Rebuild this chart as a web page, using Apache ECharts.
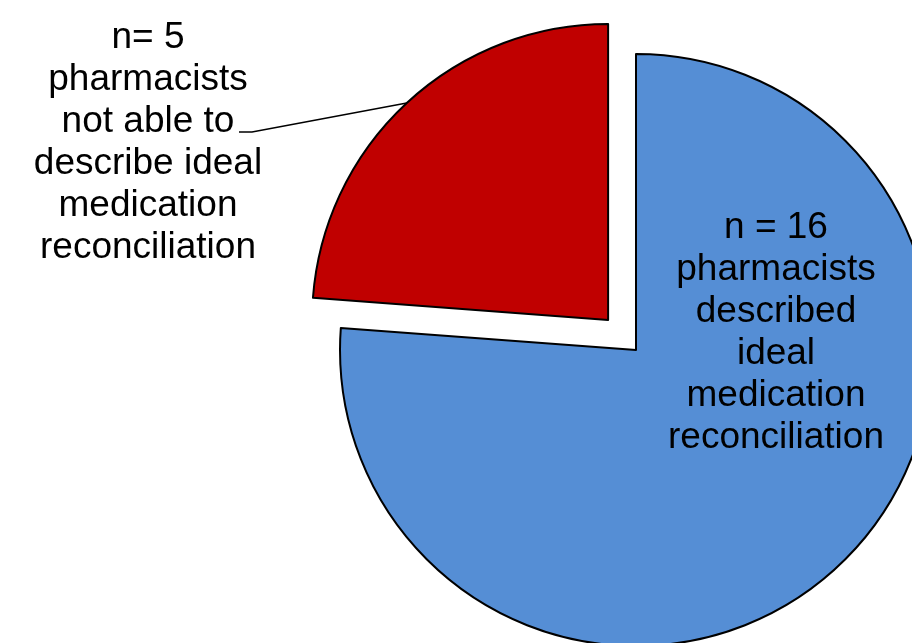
<!DOCTYPE html>
<html>
<head>
<meta charset="utf-8">
<script src="https://cdn.jsdelivr.net/npm/echarts@6/dist/echarts.min.js"></script>
<style>
  html, body { margin: 0; padding: 0; background: #ffffff; }
  #chart { width: 912px; height: 643px; }
</style>
</head>
<body>
<div id="chart"></div>
<script>
// Pharmacists' ability to describe ideal medication reconciliation
const categories = [
  'Described ideal medication reconciliation',
  'Not able to describe ideal medication reconciliation'
];
const counts = [16, 5];
const sliceColors = ['#558ED5', '#C00000'];
const labelTemplates = [
  'n = {c}\npharmacists\ndescribed\nideal\nmedication\nreconciliation',
  'n= {c}\npharmacists\nnot able to\ndescribe ideal\nmedication\nreconciliation'
];

// Pie geometry
const pieCenter = [636, 350];
const pieRadius = 296;
const explodeDistance = 41;

// Midline angle of the second (pulled-out) slice; pie starts at 12 o'clock and runs clockwise
const total = counts.reduce((a, b) => a + b, 0);
const midDeg = 90 - 360 * (counts[0] + counts[1] / 2) / total;
const midRad = midDeg * Math.PI / 180;
const explodedCenter = [
  pieCenter[0] + explodeDistance * Math.cos(midRad),
  pieCenter[1] - explodeDistance * Math.sin(midRad)
];

const textStyle = {
  fontFamily: '"Liberation Sans", Arial, sans-serif',
  fontSize: 37,
  lineHeight: 42,
  color: '#000000',
  overflow: 'none'
};
const hidden = { color: 'rgba(0,0,0,0)', borderWidth: 0 };
const edge = { borderColor: '#000000', borderWidth: 2 };

function pieData(visibleIndex) {
  return categories.map((name, i) => {
    if (i !== visibleIndex) {
      return { name, value: counts[i], itemStyle: hidden, label: { show: false }, labelLine: { show: false } };
    }
    return {
      name,
      value: counts[i],
      itemStyle: Object.assign({ color: sliceColors[i] }, edge),
      label: Object.assign({ show: true, formatter: labelTemplates[i], position: i === 0 ? 'inside' : 'outside' }, textStyle),
      labelLine: {
        show: i === 1,
        length: 10,
        length2: 13,
        lineStyle: { color: '#000000', width: 1.4 }
      }
    };
  });
}

const commonSeries = {
  type: 'pie',
  radius: pieRadius,
  startAngle: 90,
  clockwise: true,
  avoidLabelOverlap: false,
  silent: true,
  animation: false,
  emphasis: { disabled: true }
};

const chart = echarts.init(document.getElementById('chart'), null, { renderer: 'canvas' });
chart.setOption({
  backgroundColor: '#ffffff',
  series: [
    Object.assign({}, commonSeries, {
      name: 'described',
      center: pieCenter,
      data: pieData(0),
      labelLayout: (p) => p.dataIndex === 0
        ? { x: pieCenter[0] + 140, y: pieCenter[1] - 17, align: 'center', verticalAlign: 'middle' }
        : {}
    }),
    Object.assign({}, commonSeries, {
      name: 'not able',
      center: explodedCenter,
      data: pieData(1),
      labelLayout: (p) => {
        if (p.dataIndex !== 1) return {};
        const lx = 148, ly = 143;
        const end = [lx + 91, ly - 11];
        const bend = [end[0] + 13, end[1]];
        return {
          x: lx, y: ly, align: 'center', verticalAlign: 'middle',
          labelLinePoints: [p.labelLinePoints[0], bend, end]
        };
      }
    })
  ]
});
</script>
</body>
</html>
